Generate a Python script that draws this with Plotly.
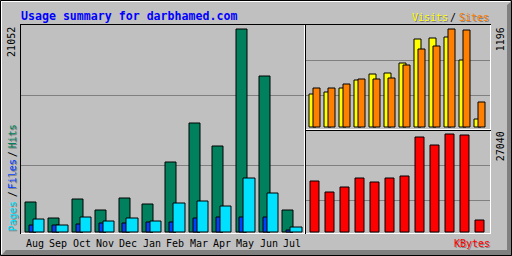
import plotly.graph_objects as go

# ---------------- data ----------------
months = ["Aug", "Sep", "Oct", "Nov", "Dec", "Jan", "Feb", "Mar", "Apr", "May", "Jun", "Jul"]
hits   = [3111, 1452, 3422, 2282, 3526, 2904, 7259, 11304, 8918, 21052, 16178, 2282]
files  = [726, 726, 830, 933, 933, 1037, 1037, 1452, 1556, 1556, 1556, 207]
pages  = [1348, 726, 1556, 1141, 1452, 1141, 3007, 3215, 2696, 5600, 4044, 518]
visits = [403, 427, 476, 574, 647, 659, 781, 1074, 1086, 1098, 818, 98]
sites  = [476, 476, 525, 586, 586, 598, 757, 952, 988, 1196, 1184, 305]
kbytes = [14030, 11003, 12378, 14854, 13754, 14854, 15404, 26133, 23932, 27040, 26900, 3301]

title_text = "Usage summary for darbhamed.com"
max_hits_label = "21052"
max_visits_label = "1196"
max_kbytes_label = "27040"

# ---------------- style ----------------
W, H = 512, 256
BG = "#C0C0C0"
GRID = "#808080"
SHADOW = "#808080"
C_HITS, C_FILES, C_PAGES = "#00805C", "#0040FF", "#00E0FF"
C_VISITS, C_SITES, C_KB = "#FFFF00", "#FF8000", "#FF0000"
FONT = "DejaVu Sans Mono"


def px(x):
    return x / W


def py(y):
    return 1 - y / H


fig = go.Figure()
xi = list(range(len(months)))
edge = dict(color="black", width=1)

# main panel
fig.add_trace(go.Bar(x=xi, y=hits, width=0.47, offset=-0.397, marker=dict(color=C_HITS, line=edge),
                     xaxis="x", yaxis="y"))
fig.add_trace(go.Bar(x=xi, y=files, width=0.30, offset=-0.235, marker=dict(color=C_FILES, line=edge),
                     xaxis="x", yaxis="y"))
fig.add_trace(go.Bar(x=xi, y=pages, width=0.483, offset=-0.064, marker=dict(color=C_PAGES, line=edge),
                     xaxis="x", yaxis="y"))
# visits / sites panel
fig.add_trace(go.Bar(x=xi, y=visits, width=0.49, offset=-0.38, marker=dict(color=C_VISITS, line=edge),
                     xaxis="x2", yaxis="y2"))
fig.add_trace(go.Bar(x=xi, y=sites, width=0.49, offset=-0.113, marker=dict(color=C_SITES, line=edge),
                     xaxis="x2", yaxis="y2"))
# kbytes panel
fig.add_trace(go.Bar(x=xi, y=kbytes, width=0.62, offset=-0.31, marker=dict(color=C_KB, line=edge),
                     xaxis="x3", yaxis="y3"))


def yaxis_for(top, bot, y0, ytop_max, vmax, grids):
    s = (y0 - ytop_max) / vmax
    lo = -(bot - y0) / s
    hi = (y0 - top) / s
    ticks = [(y0 - g) / s for g in grids]
    return dict(domain=[py(bot), py(top)], range=[lo, hi], tickvals=ticks, showticklabels=False,
                showgrid=True, gridcolor=GRID, gridwidth=1, zeroline=False, showline=False, ticks="",
                fixedrange=True)


def xaxis_for(left, right, c0, period):
    return dict(domain=[px(left), px(right)], range=[(left - c0) / period, (right - c0) / period],
                showticklabels=False, showgrid=False, zeroline=False, showline=False, ticks="",
                fixedrange=True)


layout = dict(
    width=W, height=H, margin=dict(l=0, r=0, t=0, b=0), paper_bgcolor=BG, plot_bgcolor=BG,
    barmode="overlay", showlegend=False, bargap=0,
    xaxis=xaxis_for(20.5, 304.5, 34.8, 23.4),
    yaxis=yaxis_for(24.5, 233.5, 232.5, 29.5, max(hits), [95.5, 165.5]),
    xaxis2=dict(xaxis_for(305.5, 490.5, 315.0, 15.0), anchor="y2"),
    yaxis2=dict(yaxis_for(24.5, 129.5, 127.5, 29.5, max(sites), [60.5, 95.5]), anchor="x2"),
    xaxis3=dict(xaxis_for(305.5, 490.5, 315.0, 15.0), anchor="y3"),
    yaxis3=dict(yaxis_for(130.5, 233.5, 232.5, 134.5, max(kbytes), [165.5, 200.5]), anchor="x3"),
)
layout["yaxis"]["anchor"] = "x"
layout["xaxis"]["anchor"] = "y"
fig.update_layout(**layout)

# ---------------- frame shapes ----------------
shapes = []


def line(x0, y0, x1, y1, color, w=1):
    shapes.append(dict(type="line", xref="paper", yref="paper", x0=px(x0), y0=py(y0), x1=px(x1), y1=py(y1),
                       line=dict(color=color, width=w), layer="above"))


def poly(points, color):
    d = "M " + " L ".join(f"{px(a):.6f},{py(b):.6f}" for a, b in points) + " Z"
    shapes.append(dict(type="path", xref="paper", yref="paper", path=d, fillcolor=color,
                       line=dict(width=0), layer="below"))


# outer bevel
poly([(1, 256), (512, 256), (512, 1), (507, 5), (507, 250), (6, 250)], "#808080")
line(1, 1.5, 510, 1.5, "white")
line(1.5, 1, 1.5, 254, "white")
shapes.append(dict(type="rect", xref="paper", yref="paper", x0=px(0.5), y0=py(0.5), x1=px(511.5), y1=py(255.5),
                   line=dict(color="black", width=1), layer="above"))


def panel(l, t, r, b):
    line(l, t + 0.5, r + 1, t + 0.5, "black")
    line(l + 0.5, t, l + 0.5, b + 1, "black")
    line(l + 1, b + 0.5, r + 1, b + 0.5, "white")
    line(r + 0.5, t + 1, r + 0.5, b + 1, "white")


panel(20, 24, 304, 233)
panel(305, 24, 490, 129)
panel(305, 130, 490, 233)
fig.update_layout(shapes=shapes)

# ---------------- texts ----------------
ann = []


def text(s, x, y, color, size=10, angle=0, bold=False, shadow=False, xanchor="center", xref="paper", xv=None):
    xx = xv if xv is not None else px(x)
    fam = FONT
    t = f"<b>{s}</b>" if bold else s
    if shadow:
        ann.append(dict(text=t, x=xx, y=py(y), xref=xref, yref="paper", showarrow=False, textangle=angle,
                        xanchor=xanchor, yanchor="middle", xshift=1, yshift=-1,
                        font=dict(family=fam, size=size, color=SHADOW)))
    ann.append(dict(text=t, x=xx, y=py(y), xref=xref, yref="paper", showarrow=False, textangle=angle,
                    xanchor=xanchor, yanchor="middle", font=dict(family=fam, size=size, color=color)))


text(title_text, 19, 15.5, "#0000FF", size=11.6, bold=True, xanchor="left")
text("Visits", 429.7, 17, C_VISITS, shadow=True)
text("/", 452.7, 17, "#000000")
text("Sites", 474.3, 17, C_SITES, shadow=True)
text("KBytes", 472, 243.5, C_KB, shadow=True)

text("Pages", 12.2, 216, C_PAGES, angle=-90, shadow=True)
text("/", 12.2, 194, "#000000", angle=-90)
text("Files", 12.2, 174, C_FILES, angle=-90, shadow=True)
text("/", 12.2, 154, "#000000", angle=-90)
text("Hits", 12.2, 136, C_HITS, angle=-90, shadow=True)

text(max_hits_label, 12.2, 41.7, "#000000", angle=-90)
text(max_visits_label, 500, 39.2, "#000000", angle=-90)
text(max_kbytes_label, 500, 146.3, "#000000", angle=-90)

for i, m in enumerate(months):
    text(m, 0, 243.5, "#000000", xref="x", xv=i)

fig.update_layout(annotations=ann)
fig.write_html("out.html")
